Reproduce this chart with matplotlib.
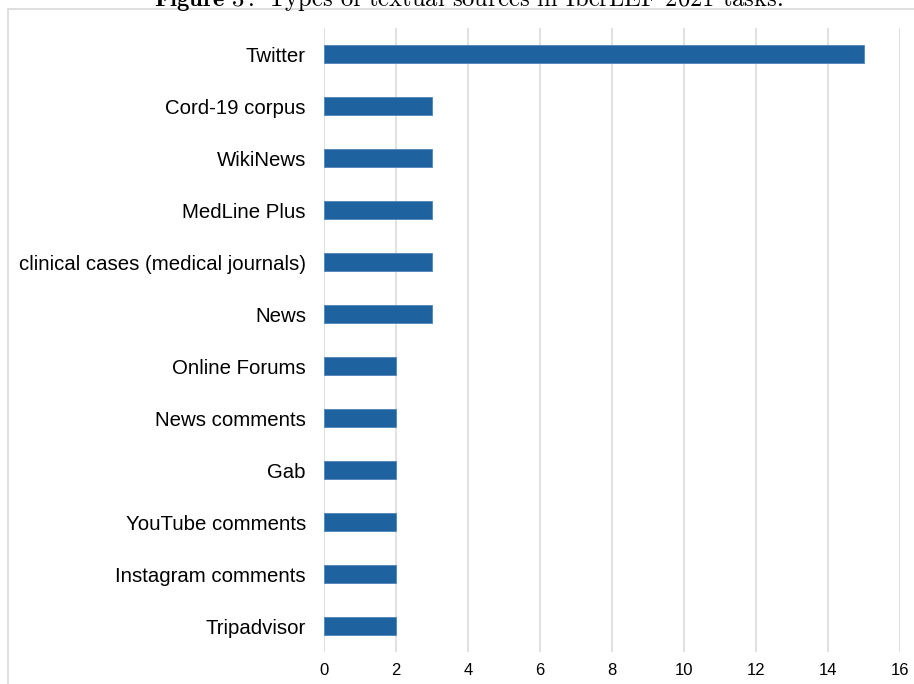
import matplotlib.pyplot as plt
from matplotlib.patches import Rectangle

sources = ['Twitter', 'Cord-19 corpus', 'WikiNews', 'MedLine Plus',
           'clinical cases (medical journals)', 'News', 'Online Forums',
           'News comments', 'Gab', 'YouTube comments', 'Instagram comments',
           'Tripadvisor']
counts = [15, 3, 3, 3, 3, 3, 2, 2, 2, 2, 2, 2]
xticks = [0, 2, 4, 6, 8, 10, 12, 14, 16]

plt.rcParams['font.family'] = ['Liberation Sans', 'DejaVu Sans']
plt.rcParams['mathtext.fontset'] = 'cm'

fig = plt.figure(figsize=(9.14, 6.84), dpi=100)
ax = fig.add_axes([324/914, 1-652/684, 576/914, 624/684])

pos = list(range(len(sources)))
ax.barh(pos, counts, height=0.35, color='#1e62a0', edgecolor='#4f86bb', linewidth=0.6, zorder=3)
ax.set_ylim(len(sources)-0.5, -0.5)
ax.set_xlim(0, 16)
ax.set_yticks(pos)
ax.set_yticklabels(sources, fontsize=14.7)
ax.set_xticks(xticks)
ax.set_xticklabels([str(t) for t in xticks], fontsize=12)
ax.tick_params(axis='both', length=0)
ax.tick_params(axis='y', pad=13)
ax.tick_params(axis='x', pad=8)
ax.grid(axis='x', color='#dcdcdc', linewidth=1.2, zorder=0)
for s in ax.spines.values():
    s.set_visible(False)

# outer frame of the figure box
fig.patches.append(Rectangle((8/914, -0.05), 1.0, 1.05-9/684, transform=fig.transFigure,
                             fill=False, edgecolor='#d9d9d9', linewidth=1.2))

# caption cut off at the top
fig.text(468/914, 1-6/684, r'$\mathbf{Figure\ 3:}$ Types of textual sources in IberLEF 2021 tasks.',
         ha='center', va='baseline', fontsize=17.7, family='cmr10')

plt.savefig('out.png', dpi=100)
